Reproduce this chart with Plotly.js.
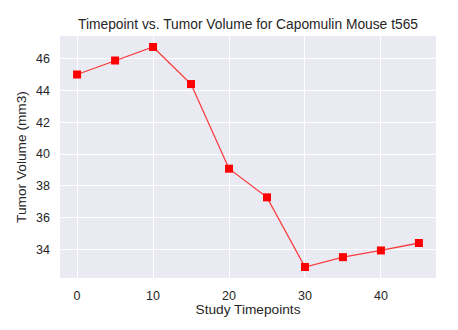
<!DOCTYPE html>
<html>
<head>
<meta charset="utf-8">
<script src="https://cdn.plot.ly/plotly-3.0.1.min.js"></script>
<style>html,body{margin:0;padding:0;background:#fff;}#chart{width:458px;height:330px;}</style>
</head>
<body>
<div id="chart"></div>
<script>
const timepoints = [0, 5, 10, 15, 20, 25, 30, 35, 40, 45];
const tumorVolume = [45.0, 45.88, 46.73, 44.40, 39.08, 37.28, 32.90, 33.52, 33.94, 34.41];
const xTicks = [0, 10, 20, 30, 40];
const yTicks = [34, 36, 38, 40, 42, 44, 46];

const textColor = '#262626';
const trace = {
  x: timepoints,
  y: tumorVolume,
  mode: 'lines+markers',
  type: 'scatter',
  line: {color: 'rgba(255,0,0,0.75)', width: 1.3},
  marker: {symbol: 'square', size: 8, color: 'red', line: {width: 0}}
};
const layout = {
  width: 458, height: 330,
  margin: {l: 60, r: 22, t: 36, b: 52},
  paper_bgcolor: '#ffffff',
  plot_bgcolor: '#EAEAF2',
  font: {family: 'Liberation Sans, Arial, sans-serif', color: textColor, size: 12.5},
  title: {text: 'Timepoint vs. Tumor Volume for Capomulin Mouse t565', font: {size: 13.8, color: textColor}, x: 0.5415, xanchor: 'center', y: 0.927, yanchor: 'middle'},
  showlegend: false,
  xaxis: {
    range: [-2.25, 47.25], tickvals: xTicks, ticktext: xTicks.map(String),
    showgrid: true, gridcolor: '#ffffff', gridwidth: 1, zeroline: false, showline: false,
    ticks: '', ticklen: 0, ticklabelstandoff: 8, tickfont: {size: 12.5, color: textColor},
    title: {text: 'Study Timepoints', font: {size: 13.7, color: textColor}, standoff: 2}
  },
  yaxis: {
    range: [32.21, 47.42], tickvals: yTicks, ticktext: yTicks.map(String),
    showgrid: true, gridcolor: '#ffffff', gridwidth: 1, zeroline: false, showline: false,
    ticks: '', ticklen: 0, ticklabelstandoff: 9, tickfont: {size: 12.5, color: textColor},
    title: {text: 'Tumor Volume (mm3)', font: {size: 13.7, color: textColor}, standoff: 6}
  }
};
Plotly.newPlot('chart', [trace], layout, {displayModeBar: false, staticPlot: true});
</script>
</body>
</html>
